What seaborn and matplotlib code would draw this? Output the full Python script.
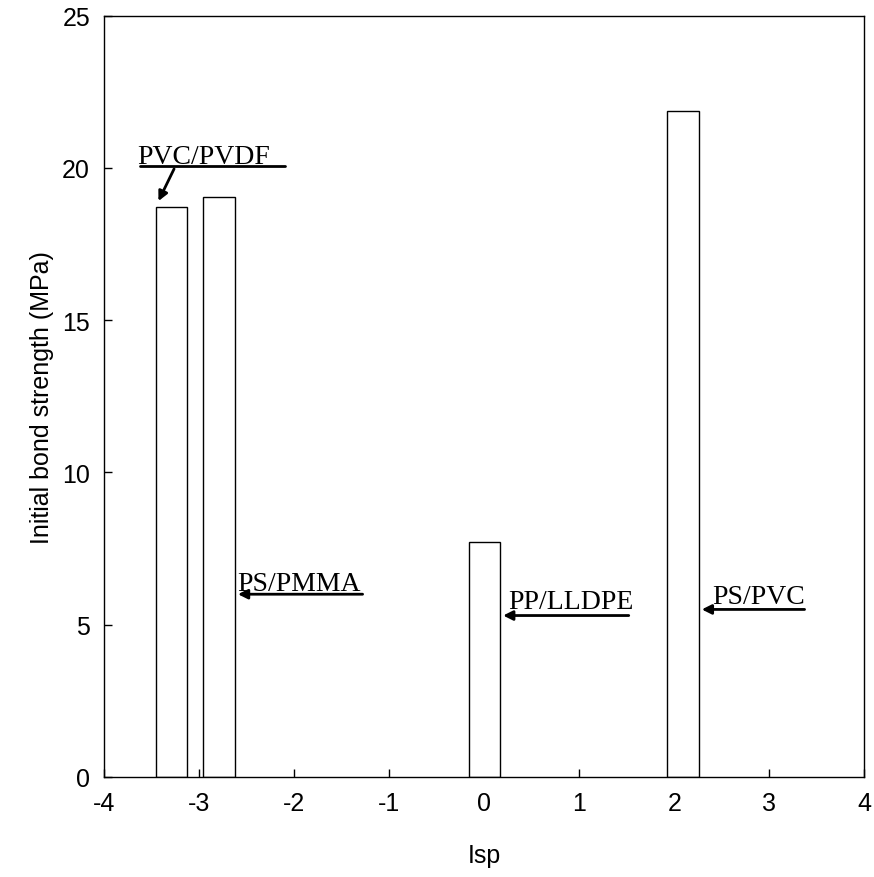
import matplotlib
matplotlib.use("Agg")
import matplotlib.pyplot as plt
import seaborn as sns
import pandas as pd

# data
isp = [-3.29, -2.79, 0.0, 2.09]
strength = [18.73, 19.03, 7.70, 21.86]
blends = ["PVC/PVDF", "PS/PMMA", "PP/LLDPE", "PS/PVC"]

sns.set_style("ticks")
plt.rcParams["font.family"] = ["Liberation Sans", "DejaVu Sans"]
plt.rcParams["axes.unicode_minus"] = False
plt.rcParams["text.color"] = "black"
plt.rcParams["axes.labelcolor"] = "black"
plt.rcParams["xtick.color"] = "black"
plt.rcParams["ytick.color"] = "black"

df = pd.DataFrame({"isp": isp, "strength": strength, "blend": blends})

fig = plt.figure(figsize=(8.74, 8.78), dpi=100)
ax = fig.add_axes([0.119, 0.114, 0.870, 0.867])

sns.barplot(data=df, x="isp", y="strength", native_scale=True, width=0.66,
            color="white", edgecolor="black", linewidth=1.0, ax=ax)

ax.set_xlim(-4, 4)
ax.set_ylim(0, 25)
ax.set_xticks(range(-4, 5))
ax.set_yticks(range(0, 26, 5))
ax.tick_params(direction="in", labelsize=18, length=6, width=1, pad=10)
for s in ax.spines.values():
    s.set_visible(True)
    s.set_linewidth(1)
    s.set_color("black")
ax.set_xlabel("Isp", fontsize=18, labelpad=20)
ax.set_ylabel("Initial bond strength (MPa)", fontsize=18, labelpad=6)

serif = dict(family="Liberation Serif", fontsize=20)
arrow = dict(arrowstyle="-|>", color="black", lw=2, mutation_scale=14)

# PVC/PVDF label with underline and slanted arrow
ax.text(-3.65, 19.95, blends[0], ha="left", va="bottom", **serif)
ax.plot([-3.62, -2.1], [20.05, 20.05], color="black", lw=2)
ax.annotate("", xy=(isp[0] - 0.15, strength[0] + 0.1), xytext=(-3.25, 20.05),
            arrowprops=arrow)

# horizontal arrow labels
labels = [(1, -2.6, 5.95, -1.25, 6.0),
          (2, 0.25, 5.35, 1.55, 5.3),
          (3, 2.4, 5.5, 3.4, 5.5)]
for i, tx, ty, x0, y0 in labels:
    ax.text(tx, ty, blends[i], ha="left", va="bottom", **serif)
    ax.annotate("", xy=(isp[i] + 0.17, y0), xytext=(x0, y0), arrowprops=arrow)

fig.savefig("out.png", dpi=100)
